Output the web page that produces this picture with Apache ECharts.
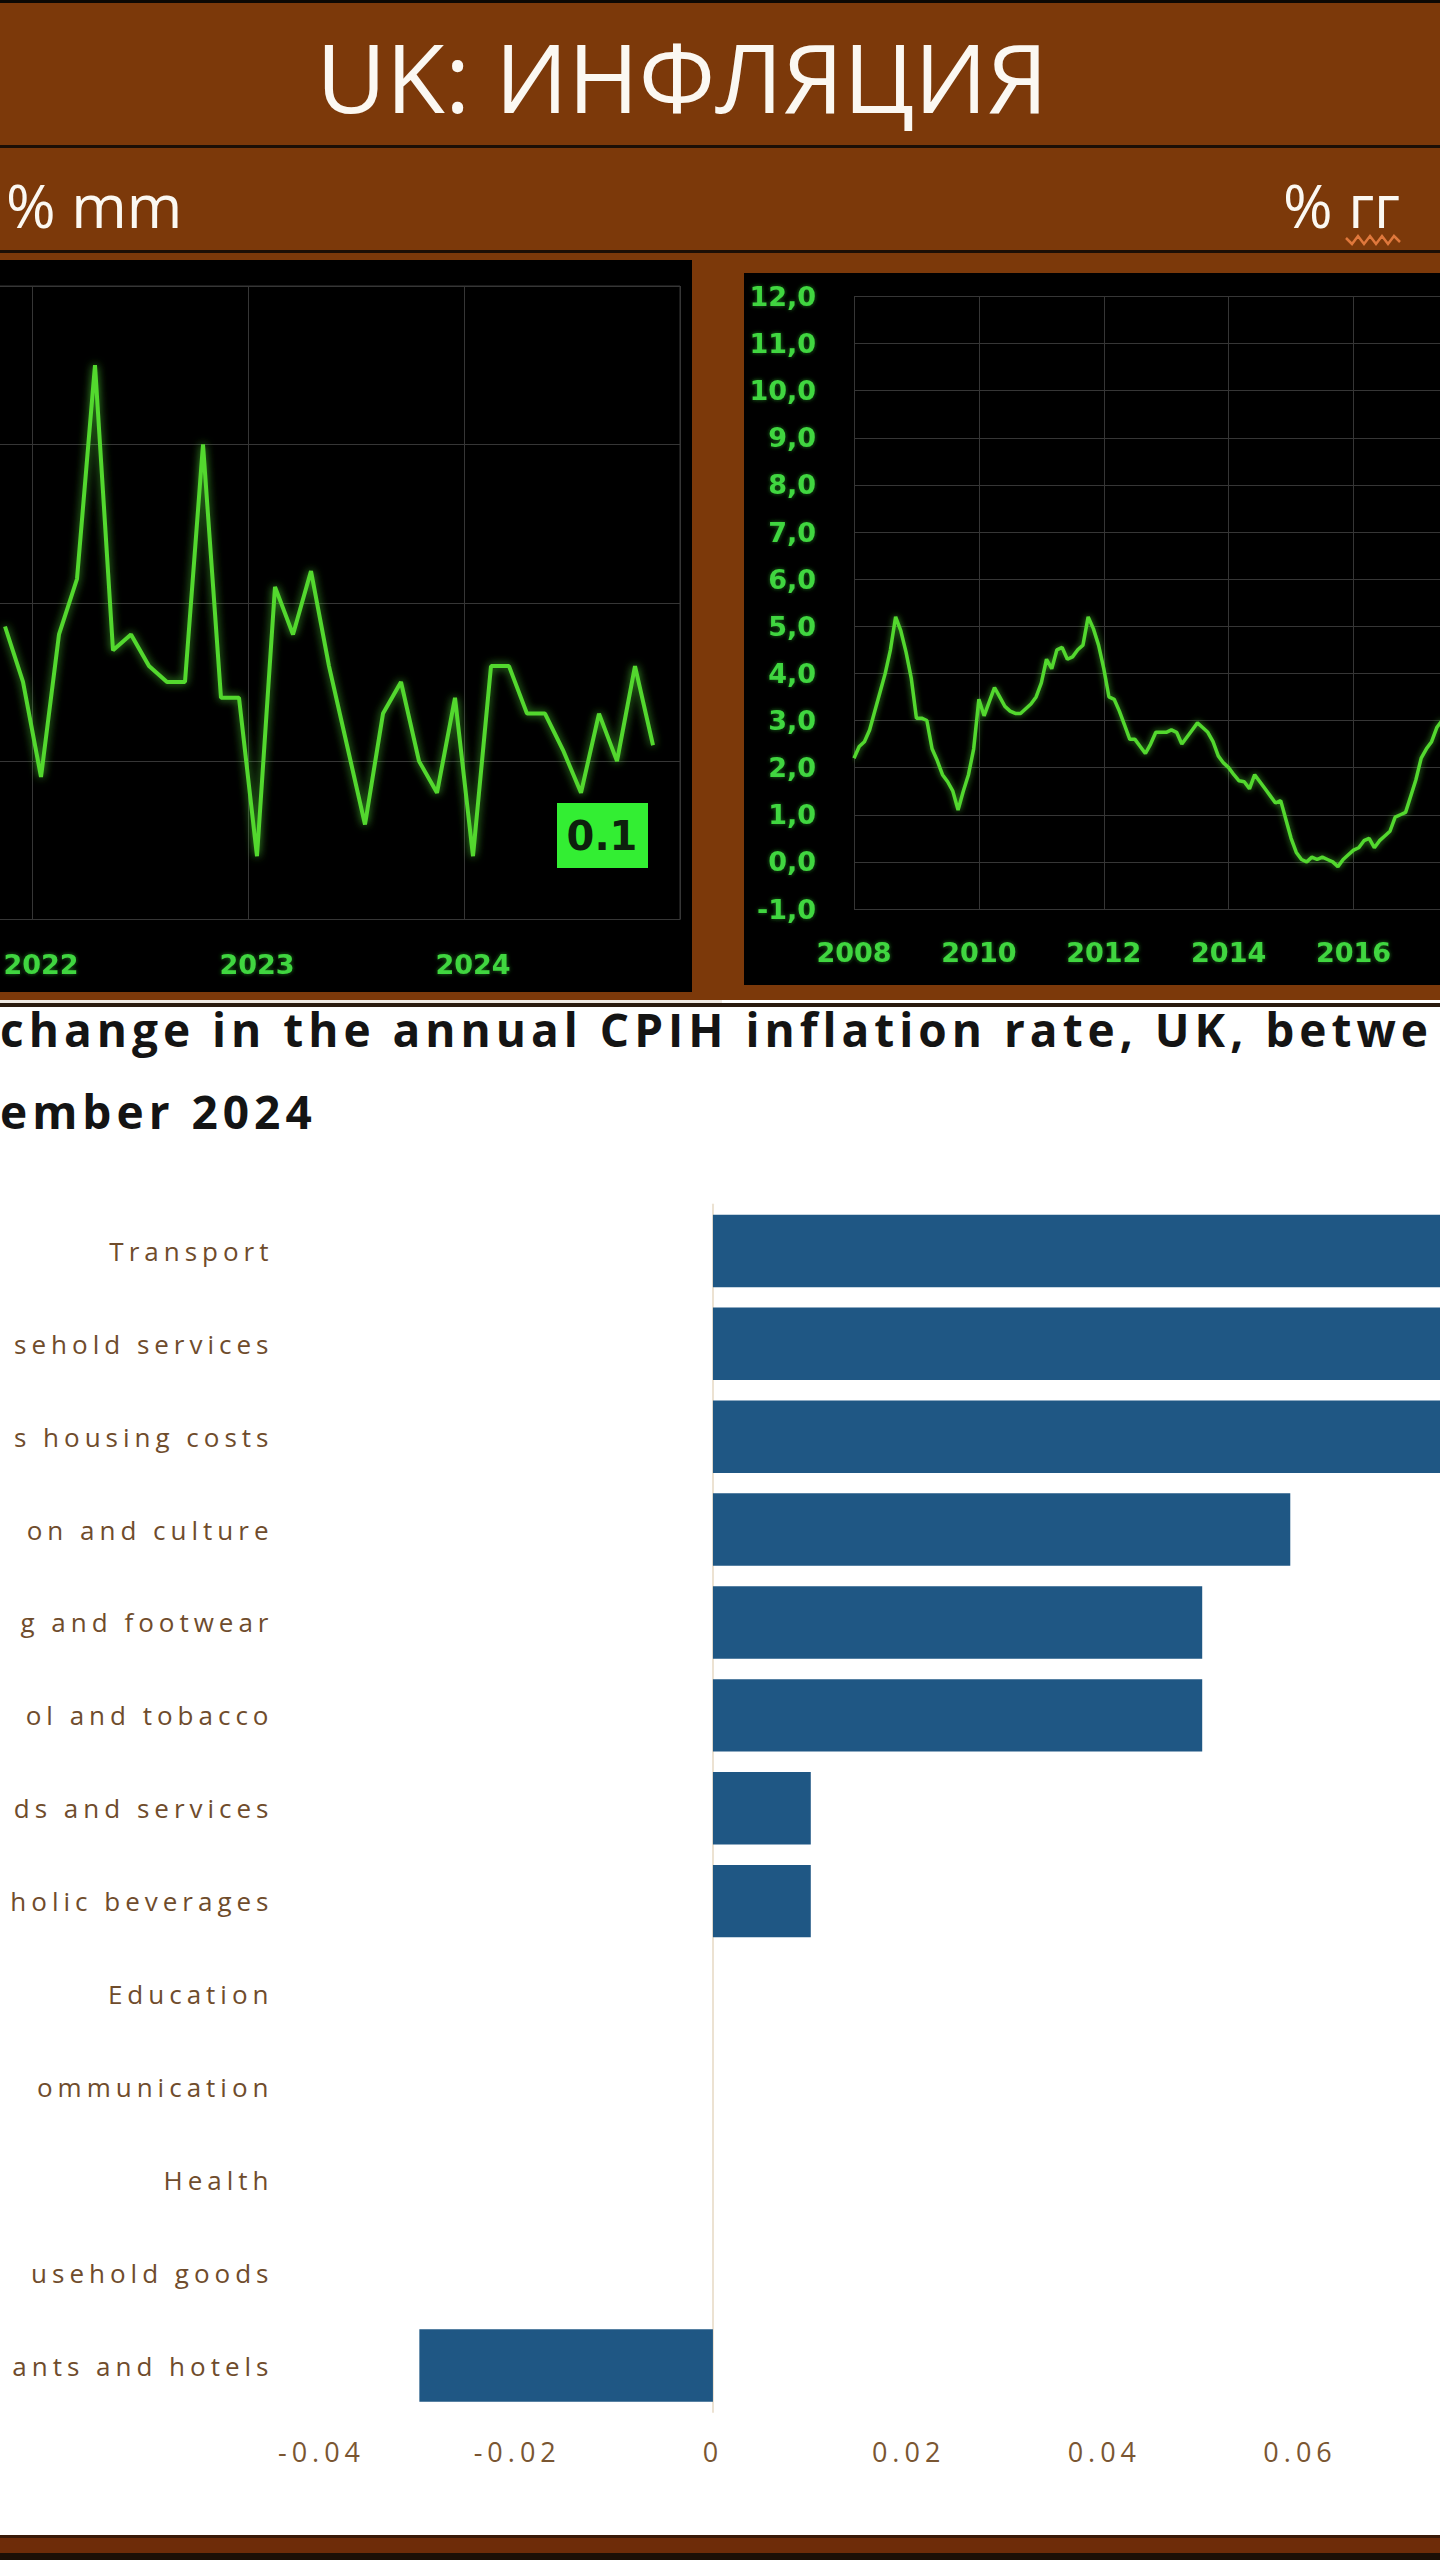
<!DOCTYPE html>
<html>
<head>
<meta charset="utf-8">
<script src="https://cdn.jsdelivr.net/npm/echarts@6/dist/echarts.min.js"></script>
<style>
html, body { margin: 0; padding: 0; background: #ffffff; }
#c { width: 1440px; height: 2560px; }
#c text[fill="#6f4c2c"] { letter-spacing: 5px; }
#c text[fill="#7a5632"] { letter-spacing: 5px; }
#c text[fill="#141414"] { letter-spacing: 5px; }
</style>
</head>
<body>
<div id="c"></div>
<script>
// ---------- DATA ----------
// Monthly CPI change, % m/m, Nov 2021 .. Nov 2024 (Dec 2024 empty)
const mmValues = [0.85, 0.5, -0.1, 0.8, 1.15, 2.5, 0.7, 0.8, 0.6, 0.5, 0.5, 2.0,
  0.4, 0.4, -0.6, 1.1, 0.8, 1.2, 0.6, 0.1, -0.4, 0.3, 0.5, 0.0,
  -0.2, 0.4, -0.6, 0.6, 0.6, 0.3, 0.3, 0.07, -0.2, 0.3, 0.0, 0.6, 0.1, null];

// Annual CPI, % y/y, Jan 2008 .. Jun 2017
const yoy2008 = [2.2, 2.45, 2.55, 2.8, 3.2, 3.6, 4.0, 4.5, 5.2, 4.9, 4.45, 3.9];
const yoy2009 = [3.05, 3.05, 3.0, 2.4, 2.15, 1.85, 1.7, 1.5, 1.1, 1.5, 1.85, 2.4];
const yoy2010 = [3.45, 3.1, 3.4, 3.7, 3.5, 3.3, 3.2, 3.15, 3.15, 3.25, 3.35, 3.5];
const yoy2011 = [3.8, 4.3, 4.1, 4.5, 4.55, 4.3, 4.35, 4.5, 4.6, 5.2, 4.95, 4.6];
const yoy2012 = [4.1, 3.5, 3.45, 3.2, 2.9, 2.6, 2.6, 2.45, 2.3, 2.5, 2.75, 2.75];
const yoy2013 = [2.75, 2.8, 2.75, 2.5, 2.65, 2.8, 2.95, 2.85, 2.75, 2.55, 2.25, 2.1];
const yoy2014 = [2.0, 1.85, 1.72, 1.7, 1.55, 1.85, 1.7, 1.55, 1.4, 1.25, 1.3, 0.9];
const yoy2015 = [0.5, 0.2, 0.05, 0.0, 0.1, 0.05, 0.1, 0.05, 0.0, -0.1, 0.05, 0.15];
const yoy2016 = [0.25, 0.3, 0.45, 0.5, 0.3, 0.45, 0.55, 0.65, 0.95, 1.0, 1.05, 1.4];
const yoy2017 = [1.75, 2.2, 2.4, 2.55, 2.85, 3.0];
const yoyTicks = [-1, 0, 1, 2, 3, 4, 5, 6, 7, 8, 9, 10, 11, 12];

// Contributions to the change in the annual CPIH rate (percentage points)
const cpihCategories = ['Transport', 'sehold services', 's housing costs', 'on and culture',
  'g and footwear', 'ol and tobacco', 'ds and services', 'holic beverages', 'Education',
  'ommunication', 'Health', 'usehold goods', 'ants and hotels'];
const cpihValues = [0.09, 0.09, 0.09, 0.059, 0.05, 0.05, 0.01, 0.01, 0, 0, 0, 0, -0.03];
const cpihTicks = [-0.04, -0.02, 0, 0.02, 0.04, 0.06];
const cpihVisibleMax = 0.0743;

// Texts
const mainTitle = 'UK: ИНФЛЯЦИЯ';
const leftUnit = '% mm';
const rightUnit = '% гг';
const barTitle1 = 'change in the annual CPIH inflation rate, UK, betwe';
const barTitle2 = 'ember 2024';

// ---------- derived categories ----------
const mmMonths = [];
for (let k = 0; k < mmValues.length; k++) {
  const m = 10 + k;
  mmMonths.push((2021 + Math.floor(m / 12)) + '-' + String(m % 12 + 1).padStart(2, '0'));
}
const yoyValues = [].concat(yoy2008, yoy2009, yoy2010, yoy2011, yoy2012, yoy2013, yoy2014, yoy2015, yoy2016, yoy2017);
const yoyMonths = [];
for (let k = 0; k < yoyValues.length; k++) {
  yoyMonths.push((2008 + Math.floor(k / 12)) + '-' + String(k % 12 + 1).padStart(2, '0'));
}
let lastMM = null;
for (let k = mmValues.length - 1; k >= 0; k--) { if (mmValues[k] != null) { lastMM = mmValues[k]; break; } }

// ---------- styles ----------
const BROWN = '#7c390a';
const DARK = '#1c0f06';
const GREEN_LINE = '#52d82e';
const GREEN_TXT = '#3fd63f';
const GRIDC = '#363636';
const BAR_TXT = '#6f4c2c';
const TICK_TXT = '#7a5632';

const chart = echarts.init(document.getElementById('c'), null, { renderer: 'svg', width: 1440, height: 2560 });

function rect(x, y, w, h, fill, z) {
  return { type: 'rect', z: z == null ? -10 : z, silent: true, shape: { x: x, y: y, width: w, height: h }, style: { fill: fill } };
}

const greenLabel = {
  color: GREEN_TXT, fontFamily: 'DejaVu Sans', fontWeight: 'bold', fontSize: 27,
  textShadowColor: 'rgba(40,160,40,0.7)', textShadowBlur: 4
};
const isJan = function (i, v) { return String(v).slice(5) === '01'; };
const isEvenJan = function (i, v) { return String(v).slice(5) === '01' && (+String(v).slice(0, 4)) % 2 === 0; };

const option = {
  backgroundColor: '#ffffff',
  animation: false,
  graphic: [
    rect(0, 0, 1440, 3, '#0c0804'),
    rect(0, 3, 1440, 142, BROWN),
    rect(0, 145, 1440, 3, DARK),
    rect(0, 148, 1440, 102, BROWN),
    rect(0, 250, 1440, 3, DARK),
    rect(0, 253, 1440, 747, BROWN),
    rect(0, 260, 692, 732, '#000000'),
    rect(744, 273, 696, 712, '#000000'),
    rect(0, 1000, 722, 3, '#efe9e2'),
    rect(0, 1003, 1440, 4, '#2a1a0e'),
    rect(0, 2535, 1440, 3, '#3a1a08'),
    rect(0, 2538, 1440, 15, '#6e2c09'),
    rect(0, 2553, 1440, 7, DARK),
    { type: 'text', z: 5, silent: true, x: 682, y: 75,
      style: { text: mainTitle, fill: '#fbf8f2', font: '500 96px "Open Sans"', align: 'center', verticalAlign: 'middle' } },
    { type: 'text', z: 5, silent: true, x: 6, y: 205,
      style: { text: leftUnit, fill: '#fbf8f2', font: '500 60px "Open Sans"', align: 'left', verticalAlign: 'middle' } },
    { type: 'text', z: 5, silent: true, x: 1400, y: 205,
      style: { text: rightUnit, fill: '#fbf8f2', font: '500 60px "Open Sans"', align: 'right', verticalAlign: 'middle' } },
    { type: 'polyline', z: 5, silent: true,
      shape: { points: [[1346, 238], [1352, 244], [1358, 236], [1364, 244], [1370, 236], [1376, 244], [1382, 236], [1388, 244], [1394, 236], [1400, 242]] },
      style: { stroke: '#e0783c', lineWidth: 2.5, fill: null } },
    { type: 'group', z: 100, children: [
      { type: 'rect', z: 100, shape: { x: 557, y: 803, width: 91, height: 65 }, style: { fill: '#33ee33' } },
      { type: 'text', z: 101, x: 602, y: 836,
        style: { text: lastMM.toFixed(1), fill: '#0d200d', font: 'bold 40px "DejaVu Sans"', align: 'center', verticalAlign: 'middle' } }
    ] },
    { type: 'text', z: 5, silent: true, x: 0, y: 1029,
      style: { text: barTitle1, fill: '#141414', font: 'bold 46px "Open Sans"', align: 'left', verticalAlign: 'middle' } },
    { type: 'text', z: 5, silent: true, x: 0, y: 1111,
      style: { text: barTitle2, fill: '#141414', font: 'bold 46px "Open Sans"', align: 'left', verticalAlign: 'middle' } }
  ],
  grid: [
    { left: -4, top: 286, width: 684, height: 633.5, show: true, borderColor: GRIDC, borderWidth: 1,
      backgroundColor: 'transparent', outerBoundsMode: 'none', containLabel: false },
    { left: 854, top: 296.4, width: 588, height: 612.6, outerBoundsMode: 'none', containLabel: false },
    { left: 321.5, top: 1204.5, width: 1118.5, height: 1207.5, outerBoundsMode: 'none', containLabel: false }
  ],
  xAxis: [
    { gridIndex: 0, type: 'category', data: mmMonths, boundaryGap: true,
      axisLine: { show: false }, axisTick: { show: false },
      splitLine: { show: true, interval: isJan, lineStyle: { color: GRIDC, width: 1 } },
      axisLabel: Object.assign({ margin: 31, interval: isJan,
        formatter: function (v) { return String(v).slice(0, 4); } }, greenLabel) },
    { gridIndex: 1, type: 'category', data: yoyMonths, boundaryGap: false,
      axisLine: { show: false }, axisTick: { show: false },
      splitLine: { show: true, interval: isEvenJan, lineStyle: { color: GRIDC, width: 1 } },
      axisLabel: Object.assign({ margin: 30, interval: isEvenJan,
        formatter: function (v) { return String(v).slice(0, 4); } }, greenLabel) },
    { gridIndex: 2, type: 'value', min: cpihTicks[0], max: cpihVisibleMax, interval: 0.02,
      axisLine: { show: false }, axisTick: { show: false }, splitLine: { show: false },
      axisLabel: { margin: 26, color: TICK_TXT, fontFamily: 'Open Sans', fontWeight: 400, fontSize: 27,
        formatter: function (v) {
          for (let t = 0; t < cpihTicks.length; t++) {
            if (Math.abs(v - cpihTicks[t]) < 1e-6) { return Math.abs(v) < 1e-9 ? '0' : v.toFixed(2); }
          }
          return '';
        } } }
  ],
  yAxis: [
    { gridIndex: 0, type: 'value', min: -1, max: 3, interval: 1,
      axisLine: { show: false }, axisTick: { show: false }, axisLabel: { show: false },
      splitLine: { show: true, lineStyle: { color: GRIDC, width: 1 } } },
    { gridIndex: 1, type: 'value', min: yoyTicks[0], max: yoyTicks[yoyTicks.length - 1], interval: 1,
      axisLine: { show: false }, axisTick: { show: false },
      axisLabel: Object.assign({ margin: 38, formatter: function (v) { return v.toFixed(1).replace('.', ','); } }, greenLabel),
      splitLine: { show: true, lineStyle: { color: GRIDC, width: 1 } } },
    { gridIndex: 2, type: 'category', data: cpihCategories, inverse: true,
      axisLine: { show: true, lineStyle: { color: '#ece2d2', width: 2 } }, axisTick: { show: false },
      splitLine: { show: false },
      axisLabel: { margin: 48, color: BAR_TXT, fontFamily: 'Open Sans', fontWeight: 400, fontSize: 26 } }
  ],
  series: [
    { type: 'line', xAxisIndex: 0, yAxisIndex: 0, data: mmValues, showSymbol: false, symbol: 'none',
      lineStyle: { color: GREEN_LINE, width: 4, shadowColor: 'rgba(90,240,60,0.7)', shadowBlur: 8 }, z: 3 },
    { type: 'line', xAxisIndex: 1, yAxisIndex: 1, data: yoyValues, showSymbol: false, symbol: 'none',
      lineStyle: { color: GREEN_LINE, width: 3.5, shadowColor: 'rgba(90,240,60,0.6)', shadowBlur: 6 }, z: 3 },
    { type: 'bar', xAxisIndex: 2, yAxisIndex: 2, data: cpihValues, barCategoryGap: '22%', clip: true,
      itemStyle: { color: '#1f5784', borderWidth: 0 } }
  ]
};
chart.setOption(option);
</script>
</body>
</html>
